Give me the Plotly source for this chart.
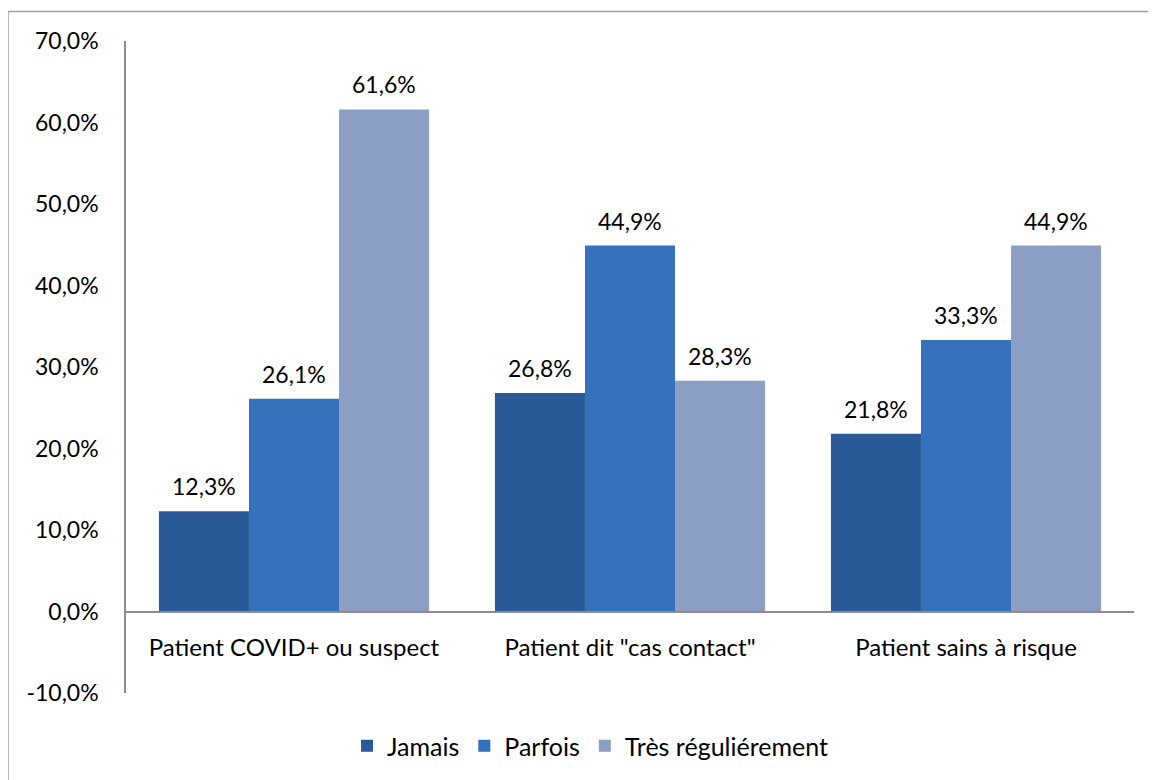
import plotly.graph_objects as go

categories = ["Patient COVID+ ou suspect", "Patient dit \"cas contact\"", "Patient sains à risque"]
series_names = ["Jamais", "Parfois", "Très réguliérement"]
jamais = [12.3, 26.8, 21.8]
parfois = [26.1, 44.9, 33.3]
tres = [61.6, 28.3, 44.9]
y_ticks = [-10, 0, 10, 20, 30, 40, 50, 60, 70]
y_tick_labels = [f"{t:.1f}%".replace(".", ",") for t in y_ticks]

values = [jamais, parfois, tres]
colors = ["#2a5a98", "#3572bb", "#8d9ec4"]
FONT = "Lato"
FS = 23
YMIN, YMAX = -10, 70

fig = go.Figure()
for name, vals, col in zip(series_names, values, colors):
    fig.add_trace(go.Bar(x=categories, y=vals, name=name, marker=dict(color=col, line=dict(width=0))))

# data labels above bars
bar_px = 90
for i, vals in enumerate(values):
    for cat, v in zip(categories, vals):
        fig.add_annotation(x=cat, y=v, text=f"{v:.1f}%".replace(".", ","), showarrow=False,
                           xshift=(i - 1) * bar_px, yshift=25, yanchor="middle",
                           font=dict(family=FONT, size=FS, color="#000000"))

zero_pos = (0 - YMIN) / (YMAX - YMIN)

fig.update_layout(
    width=1156, height=780,
    margin=dict(l=118, r=30, t=33, b=95, autoexpand=False),
    paper_bgcolor="white", plot_bgcolor="white",
    barmode="group", bargap=0.196, bargroupgap=0,
    font=dict(family=FONT, size=FS, color="#000000"),
    showlegend=True,
    legend=dict(orientation="h", x=(590 - 8) / 1156, xanchor="center", xref="container",
                y=42 / 780, yref="container", yanchor="middle",
                font=dict(family=FONT, size=25), itemwidth=30, traceorder="normal"),
    xaxis=dict(type="category", anchor="free", position=zero_pos, showline=True,
               linecolor="#8c8c8c", linewidth=1.5, ticks="", showgrid=False, automargin=False,
               ticklabelstandoff=15, tickfont=dict(family=FONT, size=24)),
    yaxis=dict(range=[YMIN, YMAX], tickvals=y_ticks, ticktext=y_tick_labels,
               showline=True, linecolor="#8c8c8c", linewidth=1.5, showgrid=False, automargin=False,
               zeroline=False, ticks="", ticklabelstandoff=21,
               tickfont=dict(family=FONT, size=FS)),
    shapes=[dict(type="rect", xref="paper", yref="paper",
                 x0=(8 - 126) / 1008, x1=1.2, y0=-0.3, y1=(693 - 11.5) / 652,
                 line=dict(color="#a0a0a0", width=1.5), fillcolor="rgba(0,0,0,0)", layer="below")],
)

fig.write_html("out.html")
